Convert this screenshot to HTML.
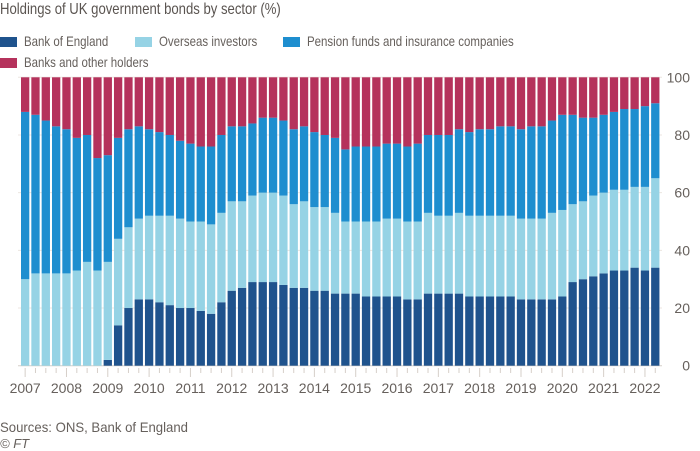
<!DOCTYPE html>
<html><head><meta charset="utf-8"><style>
body{margin:0;background:#fff;font-family:"Liberation Sans",sans-serif;color:#66605c}
#wrap{position:relative;width:700px;height:451px;overflow:hidden}
.t{position:absolute;white-space:nowrap;transform-origin:0 0}
.sq{transform:scaleX(0.82)}
.sw{position:absolute;width:17px;height:10px}
</style></head><body>
<div id="wrap">
<div class="t sq" style="left:0;top:1px;font-size:16px;color:#5a5450">Holdings of UK government bonds by sector (%)</div>
<div>
<div class="sw" style="left:0;top:37px;background:#1f538d"></div>
<div class="t sq" style="left:24px;top:33px;font-size:14px">Bank of England</div>
<div class="sw" style="left:135px;top:37px;background:#96d3e5"></div>
<div class="t sq" style="left:159px;top:33px;font-size:14px">Overseas investors</div>
<div class="sw" style="left:283px;top:37px;background:#1e8ecf"></div>
<div class="t sq" style="left:307px;top:33px;font-size:14px">Pension funds and insurance companies</div>
<div class="sw" style="left:0;top:58px;background:#b5325c"></div>
<div class="t sq" style="left:24px;top:54px;font-size:14px">Banks and other holders</div>
</div>
<svg id="chart" width="700" height="451" style="position:absolute;left:0;top:0"></svg>
<div class="t" style="left:0;top:419px;font-size:14px;transform:scaleX(0.94)">Sources: ONS, Bank of England</div>
<div class="t" style="left:0;top:436px;font-size:13px;font-style:italic">© FT</div>
</div>
<script>
const years=["2007","2008","2009","2010","2011","2012","2013","2014","2015","2016","2017","2018","2019","2020","2021","2022"];
// cumulative tops (%) per quarter 2007Q1..2022Q2
const boe=[0,0,0,0,0,0,0,0,2,14,20,23,23,22,21,20,20,19,18,22,26,27,29,29,29,28,27,27,26,26,25,25,25,24,24,24,24,23,23,25,25,25,25,24,24,24,24,24,23,23,23,23,24,29,30,31,32,33,33,34,33,34];
const overseasTop=[30,32,32,32,32,33,36,33,36,44,48,51,52,52,52,51,50,50,49,53,57,57,59,60,60,59,56,57,55,55,53,50,50,50,50,51,51,50,50,53,52,52,53,52,52,52,52,52,51,51,51,53,54,56,57,59,60,61,61,62,62,65];
const pensionTop=[88,87,85,83,82,79,80,72,73,79,82,83,82,81,80,78,77,76,76,80,83,83,84,86,86,85,82,83,81,80,79,75,76,76,76,77,77,76,77,80,80,80,82,81,82,82,83,83,82,83,83,85,87,87,86,86,87,88,89,89,90,91];
const yTicks=[0,20,40,60,80,100];
const NS='http://www.w3.org/2000/svg';
const svg=document.getElementById('chart');
const y0=365.7,y100=77.3,x0=21,pitch=10.33,bw=8.3;
const yS=v=>y0-(y0-y100)*v/100;
const xS=i=>x0+i*pitch;
function mk(tag,attrs){const e=document.createElementNS(NS,tag);for(const k in attrs)e.setAttribute(k,attrs[k]);svg.appendChild(e);return e;}
yTicks.forEach(t=>{
  const g=mk('line',{x1:18,x2:662,y1:yS(t),y2:yS(t),stroke:t===0?'#d6cfc9':'#ece6e0','stroke-width':1});
  
  
  const l=mk('text',{x:690,y:yS(t)+5,'text-anchor':'end','font-size':14,fill:'#66605c','font-family':'Liberation Sans, sans-serif'});
  l.textContent=t;
  
  
});
const cols=['#1f538d','#96d3e5','#1e8ecf','#b5325c'];
boe.forEach((b,i)=>{
  const segs=[[0,b],[b,overseasTop[i]],[overseasTop[i],pensionTop[i]],[pensionTop[i],100]];
  const names=['boe','overseas','pension','banks'];
  segs.forEach((s,k)=>{
    if(s[1]<=s[0])return;
    const r=mk('rect',{x:xS(i),y:yS(s[1]),width:bw,height:yS(s[0])-yS(s[1]),fill:cols[k]});
    
    
  });
  const major=i%4===0;
  const tk=mk('line',{x1:xS(i)+bw/2,x2:xS(i)+bw/2,y1:368,y2:major?377:373,stroke:'#d6cfc9','stroke-width':1});
  
  
});
years.forEach((yr,j)=>{
  const t=mk('text',{x:xS(j*4)+bw/2,y:393,'text-anchor':'middle','font-size':14,fill:'#66605c','font-family':'Liberation Sans, sans-serif'});
  t.textContent=yr;
  
  
});
</script>
</body></html>
